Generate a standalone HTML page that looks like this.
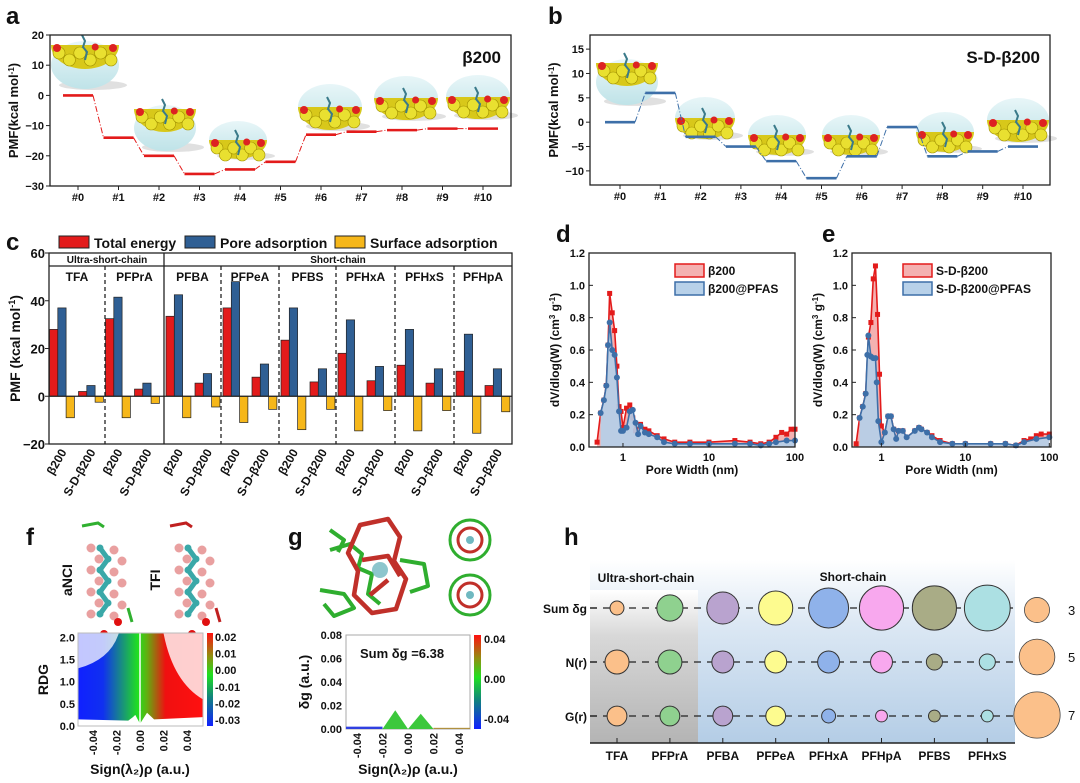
<!DOCTYPE html>
<html><head><meta charset="utf-8"><style>
html,body{margin:0;padding:0;background:#fff}
svg{display:block;font-family:"Liberation Sans",Arial,sans-serif;font-weight:bold}
</style></head><body>
<svg id="fig" width="1080" height="783" viewBox="0 0 1080 783" xmlns="http://www.w3.org/2000/svg">
<defs>
<linearGradient id="rdgGrad" x1="0" x2="1" y1="0" y2="0"><stop offset="0" stop-color="#1020ff"/><stop offset="0.2" stop-color="#1030f0"/><stop offset="0.48" stop-color="#20e020"/><stop offset="0.55" stop-color="#60b010"/><stop offset="0.7" stop-color="#f01010"/><stop offset="1" stop-color="#ff1010"/></linearGradient>
<linearGradient id="cbGrad" x1="0" x2="0" y1="0" y2="1"><stop offset="0" stop-color="#ff1010"/><stop offset="0.25" stop-color="#909010"/><stop offset="0.45" stop-color="#20e020"/><stop offset="0.7" stop-color="#108080"/><stop offset="1" stop-color="#1020ff"/></linearGradient>
<linearGradient id="hBg" x1="0" x2="0" y1="0" y2="1"><stop offset="0" stop-color="#ffffff"/><stop offset="0.35" stop-color="#dce8f4"/><stop offset="1" stop-color="#b4cde6"/></linearGradient>
<linearGradient id="hGray" x1="0" x2="0" y1="0" y2="1"><stop offset="0" stop-color="#ffffff"/><stop offset="0.3" stop-color="#d8d8d8"/><stop offset="1" stop-color="#b4b4b4"/></linearGradient>
<linearGradient id="blobTop" x1="0" x2="0" y1="0" y2="1"><stop offset="0" stop-color="#e8f6f8"/><stop offset="1" stop-color="#bfe3e8"/></linearGradient>
</defs>
<g id="root"></g>
</svg>
<script>
// ---------- DATA ----------
const stepCats = ['#0','#1','#2','#3','#4','#5','#6','#7','#8','#9','#10'];
const pmfA = [0,-14,-20,-26,-24.5,-22,-13,-12,-11.5,-11,-11];
const pmfB = [0,6,-3,-5,-8,-11.5,-7,-1,-7,-6,-5];
const ticksA = [20,10,0,-10,-20,-30];
const ticksB = [15,10,5,0,-5,-10];

const cGroups = ['TFA','PFPrA','PFBA','PFPeA','PFBS','PFHxA','PFHxS','PFHpA'];
const cTotalB = [28,32.5,33.5,37,23.5,18,13,10.5];
const cPoreB = [37,41.5,42.5,48,37,32,28,26];
const cSurfB = [-9,-9,-9,-11,-14,-14.5,-14.5,-15.5];
const cTotalS = [2,3,5.5,8,6,6.5,5.5,4.5];
const cPoreS = [4.5,5.5,9.5,13.5,11.5,12.5,11.5,11.5];
const cSurfS = [-2.5,-3,-4.5,-5.5,-5.5,-6,-6,-6.5];
const ticksC = [60,40,20,0,-20];

const dRedX = [0.5,0.55,0.6,0.64,0.67,0.7,0.75,0.8,0.85,0.9,0.95,1.0,1.1,1.2,1.3,1.4,1.6,1.8,2,2.5,3,4,6,10,20,30,40,50,60,70,80,90,100];
const dRedY = [0.03,0.21,0.29,0.38,0.63,0.95,0.83,0.72,0.5,0.25,0.22,0.12,0.24,0.26,0.18,0.1,0.14,0.11,0.1,0.07,0.05,0.03,0.03,0.03,0.04,0.03,0.02,0.03,0.06,0.09,0.08,0.11,0.11];
const dBlueX = [0.55,0.6,0.64,0.67,0.7,0.75,0.8,0.85,0.9,0.95,1.0,1.1,1.2,1.3,1.4,1.5,1.6,1.8,2,2.5,3,4,6,10,20,30,40,50,60,80,100];
const dBlueY = [0.21,0.29,0.38,0.63,0.77,0.6,0.57,0.43,0.22,0.1,0.1,0.12,0.22,0.23,0.15,0.08,0.13,0.09,0.08,0.06,0.03,0.02,0.02,0.02,0.02,0.02,0.01,0.02,0.03,0.04,0.04];
const eRedX = [0.5,0.55,0.6,0.65,0.7,0.75,0.8,0.85,0.9,0.95,1.0,1.1,1.2,1.3,1.4,1.5,1.6,1.8,2,2.5,2.8,3,3.5,4,5,7,10,20,30,40,50,60,70,80,100];
const eRedY = [0.02,0.18,0.25,0.33,0.68,0.77,1.04,1.12,0.82,0.45,0.13,0.09,0.19,0.19,0.11,0.05,0.1,0.1,0.06,0.1,0.12,0.11,0.09,0.07,0.04,0.02,0.02,0.02,0.02,0.01,0.04,0.05,0.07,0.08,0.08];
const eBlueX = [0.55,0.6,0.65,0.68,0.7,0.75,0.8,0.85,0.88,0.92,1.0,1.1,1.2,1.3,1.4,1.5,1.6,1.8,2,2.5,2.8,3,3.5,4,5,7,10,20,30,40,50,70,100];
const eBlueY = [0.18,0.25,0.33,0.57,0.69,0.56,0.55,0.55,0.4,0.16,0.03,0.09,0.19,0.19,0.11,0.05,0.1,0.1,0.06,0.1,0.12,0.11,0.09,0.06,0.03,0.02,0.02,0.02,0.02,0.01,0.03,0.05,0.06];
const ticksPSD = [0,0.2,0.4,0.6,0.8,1.0,1.2];

const fTicksX = [-0.04,-0.02,0.00,0.02,0.04];
const fTicksY = [0.0,0.5,1.0,1.5,2.0];
const fCbLabels = ['0.02','0.01','0.00','-0.01','-0.02','-0.03'];
const gTicksY = [0.00,0.02,0.04,0.06,0.08];
const gPeakX = [-0.01,0.01];
const gPeakY = [0.016,0.013];
const gCbLabels = ['0.04','0.00','-0.04'];

const hCats = ['TFA','PFPrA','PFBA','PFPeA','PFHxA','PFHpA','PFBS','PFHxS'];
const hRows = ['Sum δg','N(r)','G(r)'];
const hSumDg = [0.9,3.2,4.3,4.7,5.8,6.6,6.6,6.9];
const hNr = [2.8,2.8,2.4,2.4,2.4,2.4,1.3,1.3];
const hGr = [2.0,2.0,2.0,2.0,0.9,0.5,0.5,0.5];
const hColors = ['#fbc08a','#8fd18f','#b9a3cf','#fdfb8f','#8fb2ea','#f8a8ee','#a9ac86','#ace0e3'];
const hLegend = [3,5,7];

// ---------- HELPERS ----------
const NS='http://www.w3.org/2000/svg';
const root=document.getElementById('root');
function mk(tag,attrs,parent){const e=document.createElementNS(NS,tag);for(const k in attrs)e.setAttribute(k,attrs[k]);(parent||root).appendChild(e);return e;}
function tx(str,x,y,size,anchor,parent,extra){const e=mk('text',Object.assign({x:x,y:y,'font-size':size,'text-anchor':anchor||'start',fill:'#111'},extra||{}),parent);e.textContent=str;return e;}
function grp(){return mk('g',{});}

// ---------- PANEL LETTERS ----------
const letters=[['a',6,24],['b',548,24],['c',6,250],['d',556,242],['e',822,242],['f',26,545],['g',288,545],['h',564,545]];
letters.forEach(l=>{const t=tx(l[0],l[1],l[2],24,'start');

});

// ---------- blob images ----------
function blob(cx,cy,w,h,fullYellow){
 const g=mk('g',{});
 
 
 mk('ellipse',{cx:cx+8,cy:cy+h*0.42,rx:w*0.5,ry:h*0.1,fill:'#ccc',opacity:0.6},g);
 mk('ellipse',{cx:cx,cy:cy,rx:w/2,ry:h/2,fill:'url(#blobTop)'},g);
 const top=fullYellow?cy-h/2+4:cy;
 mk('path',{d:`M${cx-w/2} ${top} L${cx+w/2} ${top} A${w/2} ${h/2} 0 0 1 ${cx-w/2} ${top} Z`,fill:'#d8c81a'},g);
 for(let i=0;i<6;i++){mk('circle',{cx:cx-w/2+8+i*(w-16)/5,cy:top+8+(i%2)*7,r:6,fill:'#e9e030',stroke:'#a09000','stroke-width':0.6},g);}
 mk('circle',{cx:cx-w/2+6,cy:top+3,r:4,fill:'#d22'},g);
 mk('circle',{cx:cx+w/2-6,cy:top+3,r:4,fill:'#d22'},g);
 mk('circle',{cx:cx+w*0.15,cy:top+2,r:3.5,fill:'#d22'},g);
 mk('path',{d:`M${cx-3} ${top-10} l3 6 l-2 6 l4 5 l-2 8`,stroke:'#3a7a8a','stroke-width':2,fill:'none'},g);
}

// ---------- PANELS a/b ----------
function stepPanel(opts){
 const {x0,x1,y0,y1,vmin,vmax,levels,ticks,color,name,cx0,cx1,label}=opts;
 const ys=v=>y1-(v-vmin)/(vmax-vmin)*(y1-y0);
 const xs=i=>cx0+i*(cx1-cx0)/(stepCats.length-1);
 opts.blobs.forEach(b=>blob(b[0],b[1],b[2],b[3],b[4]));
 const fr=mk('rect',{x:x0,y:y0,width:x1-x0,height:y1-y0,fill:'none',stroke:'#222','stroke-width':1.3});
 
 
 ticks.forEach(t=>{mk('line',{x1:x0-4,x2:x0,y1:ys(t),y2:ys(t),stroke:'#222'});
  const l=tx(String(t).replace('-','−'),x0-6,ys(t)+4,11,'end');
  
  });
 stepCats.forEach((c,i)=>{mk('line',{x1:xs(i),x2:xs(i),y1:y1,y2:y1+4,stroke:'#222'});
  const l=tx(c,xs(i),y1+15,11,'middle');
  
  });
 levels.forEach((v,i)=>{
  if(i>0){const c=mk('line',{x1:xs(i-1)+15,y1:ys(levels[i-1]),x2:xs(i)-15,y2:ys(v),stroke:color,'stroke-width':1,'stroke-dasharray':'6 2 1 2'});
   
   }
  const s=mk('line',{x1:xs(i)-15,x2:xs(i)+15,y1:ys(v),y2:ys(v),stroke:color,'stroke-width':2.6});
  
  
 });
 const yt=tx('PMF(kcal mol',0,0,13,'middle',null,{transform:`translate(${x0-32},${(y0+y1)/2}) rotate(-90)`});
 const sup=mk('tspan',{'baseline-shift':'super','font-size':8},yt);sup.textContent='-1';
 const cl=mk('tspan',{},yt);cl.textContent=')';
 
 
 const lb=tx(label,x1-10,y0+28,17,'end');
 
 
}
stepPanel({x0:50,x1:511,y0:35,y1:186,vmin:-30,vmax:20,levels:pmfA,ticks:ticksA,color:'#e31b1b',name:'panel-a',cx0:78,cx1:483,label:'β200',
 blobs:[[85,65,68,48,true],[165,128,62,46,true],[238,140,58,38,false],[330,107,64,46,false],[406,98,64,44,false],[478,97,64,44,false]]});
stepPanel({x0:590,x1:1050,y0:35,y1:185,vmin:-12.9,vmax:17.9,levels:pmfB,ticks:ticksB,color:'#3d6fa8',name:'panel-b',cx0:620,cx1:1023,label:'S-D-β200',
 blobs:[[627,82,62,46,true],[705,118,60,42,false],[777,135,58,40,false],[851,135,58,40,false],[945,132,58,40,false],[1018,120,62,44,false]]});

// ---------- PANEL c ----------
(function(){
 const x0=49,x1=512,y0=253,y1=444,vmin=-20,vmax=60;
 const ys=v=>y1-(v-vmin)/(vmax-vmin)*(y1-y0);
 const bounds=[49,105,164,221,279,336,395,454,512];
 const bw=8.3;
 // legend
 const leg=[['#e31b1b','Total energy',59],['#2f5f94','Pore adsorption',185],['#f6b71a','Surface adsorption',335]];
 leg.forEach(l=>{const r=mk('rect',{x:l[2],y:236,width:30,height:12,fill:l[0],stroke:'#222'});
  
  
  const t=tx(l[1],l[2]+35,248,14,'start');
  
  });
 cGroups.forEach((g,i)=>{
  const gs=bounds[i];
  const sets=[[cTotalB[i],cPoreB[i],cSurfB[i]],[cTotalS[i],cPoreS[i],cSurfS[i]]];
  const cols=['#e31b1b','#2f5f94','#f6b71a'];
  sets.forEach((s,k)=>{
   const st=gs+(i<2?0.5:2)+k*29;
   s.forEach((v,j)=>{
    const top=Math.min(ys(v),ys(0)),h=Math.abs(ys(v)-ys(0));
    const b=mk('rect',{x:st+j*bw,y:top,width:bw,height:h,fill:cols[j],stroke:'#222','stroke-width':0.7});
    
    
   });
   const lbl=tx(k?'S-D-β200':'β200',0,0,12,'end',null,{transform:`translate(${st+bw*1.5+5},${y1+8}) rotate(-60)`});
   
   
  });
  const gn=tx(g,(bounds[i]+bounds[i+1])/2,281,12,'middle');
  
  
  if(i>0&&i!==2){const d=mk('line',{x1:gs,x2:gs,y1:266,y2:y1,stroke:'#222','stroke-width':1.3,'stroke-dasharray':'4 3'});
   
   }
 });
 mk('line',{x1:x0,x2:x1,y1:ys(0),y2:ys(0),stroke:'#222','stroke-width':1.2});
 mk('line',{x1:164,x2:164,y1:y0,y2:y1,stroke:'#222','stroke-width':1.3});
 mk('line',{x1:x0,x2:x1,y1:266,y2:266,stroke:'#222','stroke-width':1.2});
 const u=tx('Ultra-short-chain',107,263,10,'middle');
 
 
 const s=tx('Short-chain',338,263,10,'middle');
 
 
 const fr=mk('rect',{x:x0,y:y0,width:x1-x0,height:y1-y0,fill:'none',stroke:'#222','stroke-width':1.3});
 
 
 ticksC.forEach(t=>{mk('line',{x1:x0-4,x2:x0,y1:ys(t),y2:ys(t),stroke:'#222'});
  const l=tx(String(t).replace('-','−'),x0-4,ys(t)+5,13,'end');
  
  });
 const yt=tx('PMF (kcal mol',0,0,14,'middle',null,{transform:`translate(20,${(y0+y1)/2}) rotate(-90)`});
 const sup=mk('tspan',{'baseline-shift':'super','font-size':9},yt);sup.textContent='-1';
 const cl=mk('tspan',{},yt);cl.textContent=')';
 
 
})();

// ---------- PANELS d/e ----------
function psd(opts){
 const {x0,x1,y0,y1,lmin,lmax,rx,ry,bx,by,name,l1,l2,lx}=opts;
 const xs=v=>x0+(Math.log10(v)-lmin)/(lmax-lmin)*(x1-x0);
 const ys=v=>y1-v/1.2*(y1-y0);
 function area(X,Y,fill,stroke,nm){
  let d=`M${xs(X[0])} ${ys(0)}`;X.forEach((x,i)=>d+=` L${xs(x)} ${ys(Y[i])}`);d+=` L${xs(X[X.length-1])} ${ys(0)} Z`;
  const a=mk('path',{d:d,fill:fill,stroke:'none'});
  
  
  let dl='';X.forEach((x,i)=>dl+=(i?' L':'M')+xs(x)+' '+ys(Y[i]));
  const l=mk('path',{d:dl,fill:'none',stroke:stroke,'stroke-width':1.6});
  
  
 }
 area(rx,ry,'#f4b1b1','#e31b1b',name+'-pristine');
 rx.forEach((x,i)=>{const m=mk('rect',{x:xs(x)-2.5,y:ys(ry[i])-2.5,width:5,height:5,fill:'#e31b1b'});
  
  });
 area(bx,by,'rgba(180,208,234,0.9)','#3d6fa8',name+'-pfas');
 bx.forEach((x,i)=>{const m=mk('circle',{cx:xs(x),cy:ys(by[i]),r:3,fill:'#3d6fa8'});
  
  });
 const fr=mk('rect',{x:x0,y:y0,width:x1-x0,height:y1-y0,fill:'none',stroke:'#222','stroke-width':1.3});
 
 
 ticksPSD.forEach(t=>{mk('line',{x1:x0,x2:x0+4,y1:ys(t),y2:ys(t),stroke:'#222'});
  const l=tx(t.toFixed(1),x0-4,ys(t)+4,11,'end');
  
  });
 [1,10,100].forEach(t=>{mk('line',{x1:xs(t),x2:xs(t),y1:y1,y2:y1-4,stroke:'#222'});
  const l=tx(String(t),xs(t),y1+14,11,'middle');
  
  });
 const xt=tx('Pore Width (nm)',(x0+x1)/2,y1+27,12,'middle');
 
 
 const yt=tx('dV/dlog(W) (cm',0,0,12,'middle',null,{transform:`translate(${x0-30},${(y0+y1)/2}) rotate(-90)`});
 const s1=mk('tspan',{'baseline-shift':'super','font-size':8},yt);s1.textContent='3';
 const s2=mk('tspan',{},yt);s2.textContent=' g';
 const s3=mk('tspan',{'baseline-shift':'super','font-size':8},yt);s3.textContent='-1';
 const s4=mk('tspan',{},yt);s4.textContent=')';
 
 
 const r1=mk('rect',{x:lx,y:264,width:29,height:13,fill:'#f4b1b1',stroke:'#e31b1b','stroke-width':1.5});
 
 
 const r2=mk('rect',{x:lx,y:282,width:29,height:13,fill:'#b8d1e9',stroke:'#3d6fa8','stroke-width':1.5});
 
 
 const t1=tx(l1,lx+33,275,12,'start');
 
 
 const t2=tx(l2,lx+33,293,12,'start');
 
 
}
psd({x0:589,x1:795,y0:253,y1:447,lmin:-0.395,lmax:2,rx:dRedX,ry:dRedY,bx:dBlueX,by:dBlueY,name:'panel-d',l1:'β200',l2:'β200@PFAS',lx:675});
psd({x0:852,x1:1051,y0:253,y1:447,lmin:-0.35,lmax:2.02,rx:eRedX,ry:eRedY,bx:eBlueX,by:eBlueY,name:'panel-e',l1:'S-D-β200',l2:'S-D-β200@PFAS',lx:903});

// ---------- PANEL f ----------
(function(){
 // molecules
 function mol(x,y,iso){
  const g=mk('g',{});
  
  
  for(let i=0;i<7;i++){const cx=x+(i%2)*8,cy=y+i*11;
   mk('circle',{cx:cx-9,cy:cy,r:4.5,fill:'#e9a0a0'},g);mk('circle',{cx:cx+14,cy:cy+2,r:4.5,fill:'#e9a0a0'},g);}
  let d='';for(let i=0;i<7;i++)d+=(i?' L':'M')+(x+(i%2)*8)+' '+(y+i*11);
  mk('path',{d:d,stroke:'#3aa8a8','stroke-width':5,fill:'none'},g);
  for(let i=0;i<7;i++)mk('circle',{cx:x+(i%2)*8,cy:y+i*11,r:3.5,fill:'#3aa8a8'},g);
  mk('circle',{cx:x+18,cy:y+74,r:4,fill:'#e01010'},g);mk('circle',{cx:x+4,cy:y+86,r:4,fill:'#e01010'},g);
  mk('path',{d:`M${x-18} ${y-22} l16 -3 l6 4`,stroke:iso,'stroke-width':3,fill:'none'},g);
  mk('path',{d:`M${x+28} ${y+60} l4 14 M${x-6} ${y+90} l8 8 l10 -4`,stroke:iso,'stroke-width':3,fill:'none'},g);
 }
 mol(100,548,'#30b030');mol(188,548,'#c02020');
 const a=tx('aNCI',0,0,14,'middle',null,{transform:'translate(72,580) rotate(-90)'});
 
 const t=tx('TFI',0,0,14,'middle',null,{transform:'translate(160,580) rotate(-90)'});
 
 const x0=78,x1=203,y0=633,y1=726;
 const xs=v=>140+v*1175, ys=v=>y1-v/2.1*(y1-y0);
 const sc=mk('rect',{x:x0,y:y0,width:x1-x0,height:y1-y0,fill:'url(#rdgGrad)'});
 
 
 mk('path',{d:`M${x0} ${y0} L${xs(-0.018)} ${y0} Q${xs(-0.025)} ${ys(1.5)} ${x0} ${ys(1.3)} Z`,fill:'#fff',opacity:0.75});
 mk('path',{d:`M${x1} ${y0} L${xs(0.02)} ${y0} Q${xs(0.028)} ${ys(1.0)} ${x1} ${ys(0.6)} Z`,fill:'#fff',opacity:0.8});
 mk('path',{d:`M${x0} ${y1} L${x0} ${ys(0.15)} L${xs(-0.01)} ${ys(0.12)} L${xs(-0.006)} ${ys(0.2)} L${xs(-0.004)} ${ys(0.25)} L${xs(0.0)} ${ys(0.05)} L${xs(0.006)} ${ys(0.3)} L${xs(0.012)} ${ys(0.15)} L${x1} ${ys(0.2)} L${x1} ${y1} Z`,fill:'#fff'});
 mk('line',{x1:xs(0),x2:xs(0),y1:y0,y2:y1,stroke:'#fff','stroke-width':1.5});
 mk('rect',{x:x0,y:y0,width:x1-x0,height:y1-y0,fill:'none',stroke:'#bbb'});
 fTicksY.forEach(v=>{const l=tx(v.toFixed(1),x0-3,ys(v)+4,11,'end');
  });
 fTicksX.forEach(v=>{const l=tx(v.toFixed(2),0,0,11,'end',null,{transform:`translate(${xs(v)+4},${y1+4}) rotate(-90)`});
  });
 const yt=tx('RDG',0,0,14,'middle',null,{transform:`translate(${x0-30},${(y0+y1)/2}) rotate(-90)`});
 
 const xt=tx('Sign(λ₂)ρ (a.u.)',140,774,14,'middle');
 
 const cb=mk('rect',{x:207,y:y0,width:6,height:y1-y0,fill:'url(#cbGrad)'});
 
 fCbLabels.forEach((s,i)=>{const l=tx(s,215,y0+8+i*16.6,11,'start');
  });
})();

// ---------- PANEL g ----------
(function(){
 const g=mk('g',{});
 
 
 const G='#2fae2f',R='#c0302a';
 mk('path',{d:'M330 550 l20 -6 l12 10 l-4 14 l14 6 l-4 20 l12 10 M320 590 l24 4 l10 14 l-20 8 l-10 -12 M400 560 l24 4 l4 22 l-18 6 M330 530 l14 10 l-6 12',stroke:G,'stroke-width':4,fill:'none','stroke-linejoin':'round'},g);
 mk('path',{d:'M360 525 l28 -6 l12 18 l-6 24 l12 18 l-10 30 l-24 4 l-18 -18 l4 -24 l-10 -18 Z M362 560 l26 -4 l12 20 M370 595 l18 -15',stroke:R,'stroke-width':4.5,fill:'none','stroke-linejoin':'round'},g);
 mk('circle',{cx:380,cy:570,r:8,fill:'#70b8c0',opacity:0.8},g);
 [[470,540],[470,595]].forEach(c=>{mk('circle',{cx:c[0],cy:c[1],r:20,fill:'none',stroke:G,'stroke-width':3},g);
  mk('circle',{cx:c[0],cy:c[1],r:12,fill:'none',stroke:R,'stroke-width':3},g);
  mk('circle',{cx:c[0],cy:c[1],r:4,fill:'#70b8c0'},g);});
 const x0=346,x1=470,y0=635,y1=729;
 const xs=v=>408+v*1275, ys=v=>y1-v/0.08*(y1-y0);
 const fr=mk('rect',{x:x0,y:y0,width:x1-x0,height:y1-y0,fill:'#fff',stroke:'#aaa'});
 
 mk('rect',{x:x0,y:ys(0.002),width:xs(-0.02)-x0,height:ys(0)-ys(0.002),fill:'#3040e0'});
 gPeakX.forEach((px,i)=>{const w=0.01;
  const p=mk('path',{d:`M${xs(px-w)} ${ys(0)} L${xs(px)} ${ys(gPeakY[i])} L${xs(px+w)} ${ys(0)} Z`,fill:'#3cc83c'});
  });
 mk('rect',{x:xs(0.02),y:ys(0.001),width:x1-xs(0.02),height:ys(0)-ys(0.001),fill:'#b09040'});
 gTicksY.forEach(v=>{const l=tx(v.toFixed(2),x0-4,ys(v)+4,11,'end');
  });
 fTicksX.forEach(v=>{const l=tx(v.toFixed(2),0,0,11,'end',null,{transform:`translate(${xs(v)+4},${y1+4}) rotate(-90)`});
  });
 const st=tx('Sum δg =6.38',360,658,13,'start');
 
 const yt=tx('δg (a.u.)',0,0,14,'middle',null,{transform:`translate(${x0-37},${(y0+y1)/2}) rotate(-90)`});
 
 const xt=tx('Sign(λ₂)ρ (a.u.)',408,774,14,'middle');
 
 const cb=mk('rect',{x:474,y:y0,width:7,height:y1-y0,fill:'url(#cbGrad)'});
 
 gCbLabels.forEach((s,i)=>{const l=tx(s,484,y0+8+i*40,11,'start');
  });
})();

// ---------- PANEL h ----------
(function(){
 const x0=590,x1=1015,y0=560,y1=743;
 const xs=i=>617+i*52.9;
 const rowY=[608,662,716];
 const rad=v=>2.65*v+4.6;
 const bg=mk('rect',{x:x0,y:y0,width:x1-x0,height:y1-y0,fill:'url(#hBg)'});
 
 const gb=mk('rect',{x:x0,y:y0+30,width:108,height:y1-y0-30,fill:'url(#hGray)'});
 
 const u=tx('Ultra-short-chain',646,582,12,'middle');
 
 const s=tx('Short-chain',853,581,12,'middle');
 
 mk('line',{x1:x0,x2:x1,y1:y1,y2:y1,stroke:'#222','stroke-width':1.5});
 const series=[hSumDg,hNr,hGr];
 hRows.forEach((r,k)=>{
  const y=rowY[k];
  const dl=mk('line',{x1:x0,x2:x1,y1:y,y2:y,stroke:'#222','stroke-width':1.3,'stroke-dasharray':'7 6'});
  
  mk('line',{x1:x0,x2:x0+7,y1:y,y2:y,stroke:'#222','stroke-width':1.3});
  const l=tx(r,x0-3,y+5,12,'end');
  
  series[k].forEach((v,i)=>{
   const c=mk('circle',{cx:xs(i),cy:y,r:rad(v),fill:hColors[i],stroke:'#333','stroke-width':1});
   
   
  });
 });
 hCats.forEach((c,i)=>{mk('line',{x1:xs(i),x2:xs(i),y1:y1,y2:y1-5,stroke:'#222'});
  const l=tx(c,xs(i),y1+17,12,'middle');
  });
 const ly=[610,657,715];
 hLegend.forEach((v,i)=>{
  const c=mk('circle',{cx:1037,cy:ly[i],r:rad(v),fill:'#fbc08a',stroke:'#444','stroke-width':0.8});
  
  const t=tx(String(v),1068,ly[i]+5,13,'start',null,{'font-weight':'normal'});
  
 });
})();
</script>
</body></html>
